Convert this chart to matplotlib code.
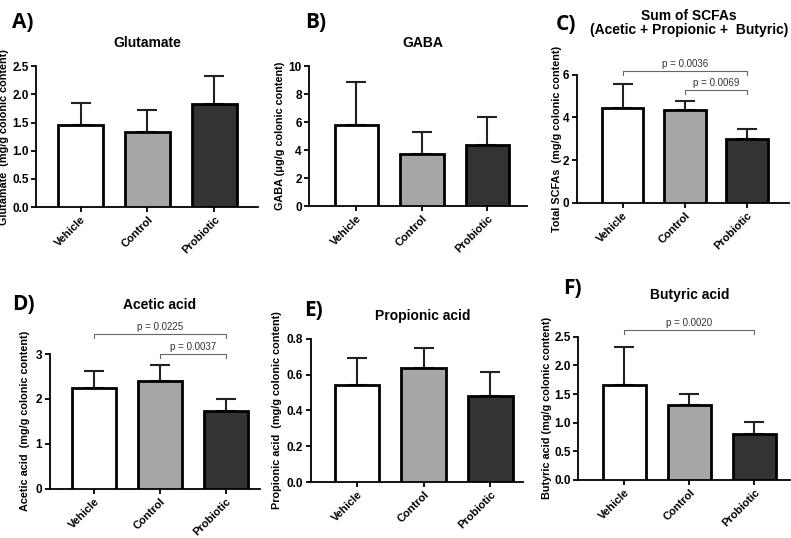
import matplotlib
matplotlib.use("Agg")
import matplotlib.pyplot as plt

plt.rcParams['font.family'] = ['Liberation Sans', 'DejaVu Sans']

groups = ["Vehicle", "Control", "Probiotic"]
bar_colors = ["#ffffff", "#a6a6a6", "#333333"]

glutamate = [1.45, 1.34, 1.83]
glutamate_err = [0.39, 0.39, 0.50]
gaba = [5.8, 3.75, 4.4]
gaba_err = [3.1, 1.55, 2.0]
scfa = [4.45, 4.35, 3.0]
scfa_err = [1.1, 0.43, 0.45]
acetic = [2.25, 2.4, 1.73]
acetic_err = [0.37, 0.35, 0.27]
propionic = [0.54, 0.635, 0.48]
propionic_err = [0.155, 0.115, 0.135]
butyric = [1.66, 1.31, 0.80]
butyric_err = [0.66, 0.19, 0.22]

panels = [
    dict(letter="A)", title="Glutamate", vals=glutamate, err=glutamate_err,
         ylabel="Glutamate  (mg/g colonic content)", ylim=(0, 2.5),
         yticks=[0, 0.5, 1.0, 1.5, 2.0, 2.5], fmt="{:.1f}",
         rect=[0.046, 0.615, 0.280, 0.262], xlim=(-0.66, 2.65), ylc=-0.125,
         letter_xy=(12, 23), title_xy=(147, 43), title_fs=10, brackets=[]),
    dict(letter="B)", title="GABA", vals=gaba, err=gaba_err,
         ylabel="GABA (\u03bcg/g colonic content)", ylim=(0, 10),
         yticks=[0, 2, 4, 6, 8, 10], fmt="{:.0f}",
         rect=[0.391, 0.617, 0.275, 0.260], xlim=(-0.72, 2.6), ylc=-0.11,
         letter_xy=(305, 23), title_xy=(423, 43), title_fs=10, brackets=[]),
    dict(letter="C)", title="Sum of SCFAs\n(Acetic + Propionic +  Butyric)", vals=scfa, err=scfa_err,
         ylabel="Total SCFAs  (mg/g colonic content)", ylim=(0, 6),
         yticks=[0, 2, 4, 6], fmt="{:.0f}",
         rect=[0.729, 0.623, 0.268, 0.238], xlim=(-0.74, 2.67), ylc=-0.07,
         letter_xy=(556, 24), title_xy=(689, 23), title_fs=10,
         brackets=[(0, 2, 6.2, 0.2, "p = 0.0036"), (1, 2, 5.3, 0.2, "p = 0.0069")]),
    dict(letter="D)", title="Acetic acid", vals=acetic, err=acetic_err,
         ylabel="Acetic acid  (mg/g colonic content)", ylim=(0, 3),
         yticks=[0, 1, 2, 3], fmt="{:.0f}",
         rect=[0.063, 0.092, 0.266, 0.250], xlim=(-0.67, 2.52), ylc=-0.095,
         letter_xy=(12, 304), title_xy=(160, 305), title_fs=10,
         brackets=[(0, 2, 3.45, 0.1, "p = 0.0225"), (1, 2, 3.0, 0.1, "p = 0.0037")]),
    dict(letter="E)", title="Propionic acid", vals=propionic, err=propionic_err,
         ylabel="Propionic acid  (mg/g colonic content)", ylim=(0, 0.8),
         yticks=[0, 0.2, 0.4, 0.6, 0.8], fmt="{:.1f}",
         rect=[0.393, 0.104, 0.268, 0.266], xlim=(-0.69, 2.49), ylc=-0.136,
         letter_xy=(304, 311), title_xy=(423, 316), title_fs=10, brackets=[]),
    dict(letter="F)", title="Butyric acid", vals=butyric, err=butyric_err,
         ylabel="Butyric acid (mg/g colonic content)", ylim=(0, 2.5),
         yticks=[0, 0.5, 1.0, 1.5, 2.0, 2.5], fmt="{:.1f}",
         rect=[0.731, 0.108, 0.268, 0.266], xlim=(-0.71, 2.55), ylc=-0.123,
         letter_xy=(563, 288), title_xy=(690, 295), title_fs=10,
         brackets=[(0, 2, 2.62, 0.08, "p = 0.0020")]),
]

W, H = 791, 538
fig = plt.figure(figsize=(W / 100, H / 100), dpi=100)

for p in panels:
    ax = fig.add_axes(p["rect"])
    x = list(range(len(groups)))
    ax.bar(x, p["vals"], width=0.67, color=bar_colors, edgecolor="black", linewidth=2, zorder=3)
    ax.errorbar(x, p["vals"], yerr=[[0] * 3, p["err"]], fmt="none", ecolor="#222222",
                elinewidth=1.5, capsize=7.5, capthick=1.5, zorder=2)
    ax.set_xlim(*p["xlim"])
    ax.set_ylim(*p["ylim"])
    ax.set_yticks(p["yticks"])
    ax.set_yticklabels([p["fmt"].format(t) for t in p["yticks"]], fontsize=8.5, fontweight="bold")
    ax.set_xticks(x)
    ax.set_xticklabels(groups, rotation=45, ha="right", rotation_mode="anchor",
                       fontsize=8, fontweight="bold")
    for s in ["top", "right"]:
        ax.spines[s].set_visible(False)
    for s in ["left", "bottom"]:
        ax.spines[s].set_linewidth(1.3)
    ax.tick_params(width=1.3, length=3.5, pad=2)
    ax.set_ylabel(p["ylabel"], fontsize=7.8, fontweight="bold")
    ax.yaxis.set_label_coords(p["ylc"], 0.5)

    for (i, j, yb, drop, label) in p["brackets"]:
        ax.plot([i, i, j, j], [yb - drop, yb, yb, yb - drop], color="#666666", lw=0.8, clip_on=False)
        ax.text((i + j) / 2, yb + drop * 0.4, label, ha="center", va="bottom", fontsize=7,
                color="#333333", clip_on=False)

    lx, ly = p["letter_xy"]
    fig.text(lx / W, 1 - ly / H, p["letter"], fontsize=15, fontweight="bold",
             family=["Open Sans", "DejaVu Sans"], ha="left", va="center")
    tx, ty = p["title_xy"]
    fig.text(tx / W, 1 - ty / H, p["title"], fontsize=p["title_fs"], fontweight="bold",
             ha="center", va="center", linespacing=1.0)

fig.savefig("out.png", dpi=100)
